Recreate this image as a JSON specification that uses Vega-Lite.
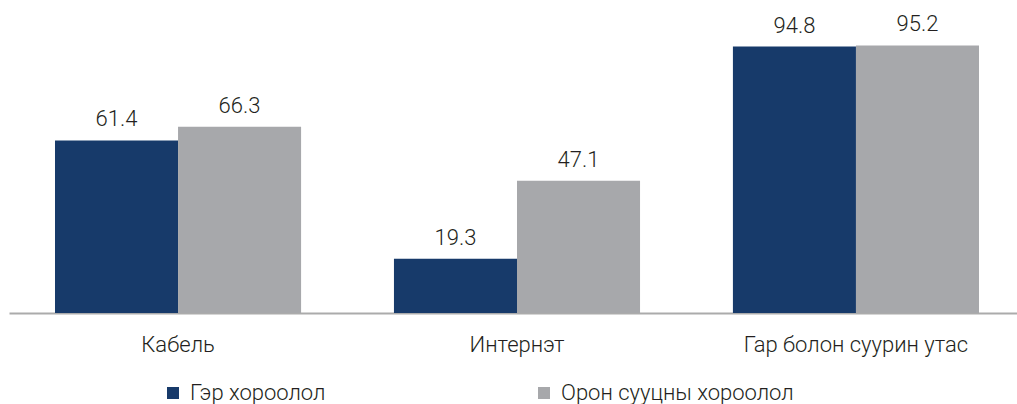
{
  "$schema": "https://vega.github.io/schema/vega-lite/v6.json",
  "width": 1008,
  "height": 281,
  "autosize": {"type": "none"},
  "padding": {"left": 9, "top": 32, "right": 0, "bottom": 91},
  "config": {"view": {"stroke": null}, "font": "Roboto"},
  "data": {
    "values": [
      {"cat": "Кабель", "grp": "Гэр хороолол", "v": 61.4},
      {"cat": "Кабель", "grp": "Орон сууцны хороолол", "v": 66.3},
      {"cat": "Интернэт", "grp": "Гэр хороолол", "v": 19.3},
      {"cat": "Интернэт", "grp": "Орон сууцны хороолол", "v": 47.1},
      {"cat": "Гар болон суурин утас", "grp": "Гэр хороолол", "v": 94.8},
      {"cat": "Гар болон суурин утас", "grp": "Орон сууцны хороолол", "v": 95.2}
    ]
  },
  "encoding": {
    "x": {
      "field": "cat",
      "type": "nominal",
      "sort": ["Кабель", "Интернэт", "Гар болон суурин утас"],
      "scale": {"range": [0, 1016], "paddingInner": 0.274, "paddingOuter": 0.1357},
      "axis": {
        "title": null,
        "labelAngle": 0,
        "ticks": false,
        "domainColor": "#ababab",
        "domainWidth": 2,
        "labelFontSize": 22,
        "labelFontWeight": 300,
        "labelColor": "#231f20",
        "labelBaseline": "alphabetic",
        "labelPadding": 38,
        "labelLimit": 0
      }
    },
    "xOffset": {
      "field": "grp",
      "type": "nominal",
      "sort": ["Гэр хороолол", "Орон сууцны хороолол"],
      "scale": {"paddingInner": 0, "paddingOuter": 0}
    },
    "y": {"field": "v", "type": "quantitative", "scale": {"domain": [0, 100]}, "axis": null}
  },
  "layer": [
    {
      "mark": {"type": "bar"},
      "encoding": {
        "color": {
          "field": "grp",
          "type": "nominal",
          "sort": ["Гэр хороолол", "Орон сууцны хороолол"],
          "scale": {"range": ["#173a6a", "#a7a8ab"]},
          "legend": {
            "title": null,
            "orient": "none",
            "legendX": 153,
            "legendY": 350,
            "direction": "horizontal",
            "symbolType": "square",
            "symbolSize": 144,
            "symbolStrokeWidth": 0,
            "labelFontSize": 22,
            "labelFontWeight": 300,
            "labelColor": "#231f20",
            "labelOffset": 6,
            "labelLimit": 0,
            "columnPadding": 207
          }
        }
      }
    },
    {
      "mark": {"type": "text", "baseline": "alphabetic", "dy": -14, "fontSize": 22, "fontWeight": 300, "color": "#231f20"},
      "encoding": {"text": {"field": "v", "type": "quantitative", "format": ".1f"}}
    }
  ]
}
